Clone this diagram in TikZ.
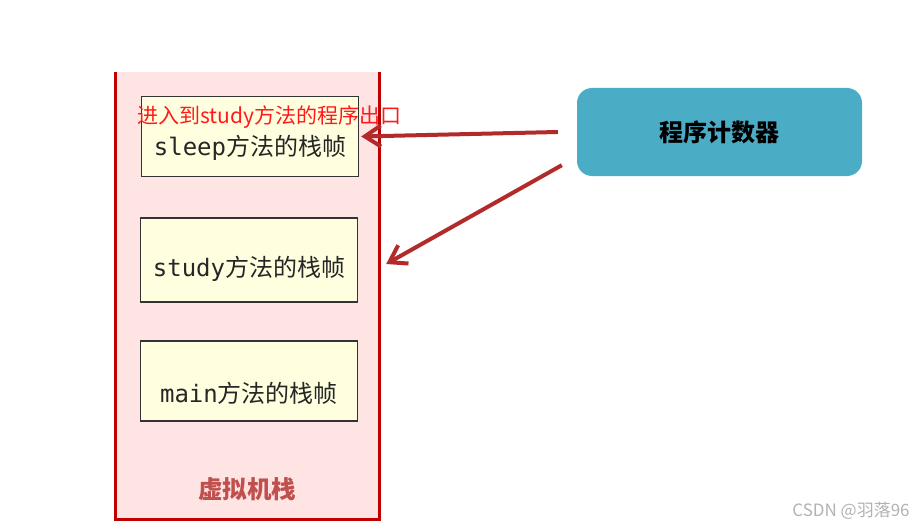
\documentclass[tikz,border=0pt]{standalone}
\usepackage{fontspec}
\newfontfamily\cjk{Noto Sans CJK SC}
\newfontfamily\codefont{DejaVu Sans Mono}
\usepackage{tikz}
\usetikzlibrary{positioning,arrows.meta}
\usepackage{xcolor}
\definecolor{stackred}{HTML}{C00000}
\definecolor{stackpink}{HTML}{FFE4E4}
\definecolor{framefill}{HTML}{FFFFE0}
\definecolor{pcblue}{HTML}{4BACC6}
\definecolor{arrowred}{HTML}{B22A2A}
\definecolor{labelred}{HTML}{C0504D}

\begin{document}
\begin{tikzpicture}[x=1pt,y=-1pt,>={Straight Barb[length=16pt,width=21pt]},
  frame/.style={draw=black!80,line width=1.4pt,fill=framefill,minimum width=217pt,minimum height=80pt},
  frametext/.style={font=\cjk\fontsize{24}{28}\selectfont,text=black!85},
  flow/.style={->,arrowred,line width=4pt}]
\useasboundingbox (0,0) rectangle (916,527);
% the stack
\fill[stackpink] (115.5,72) rectangle (379.5,519.5);
\draw[stackred,line width=3.5pt] (115.5,72) -- (115.5,519.5) -- (379.5,519.5) -- (379.5,72);
\node[font=\cjk\bfseries\fontsize{24.5}{28}\selectfont,text=labelred] (stacklabel) at (247,489) {虚拟机栈};
% frames
\node[frame] (sleep) at (250,136.5) {};
\node[frame,minimum height=84pt] (study) at (249,260) {};
\node[frame] (main) at (249,381) {};
\node[frametext] (sleeptext) at ([yshift=-11pt]sleep.center) {{\codefont sleep}方法的栈帧};
\node[frametext] (studytext) at ([yshift=-9pt]study.center) {{\codefont study}方法的栈帧};
\node[frametext] (maintext) at ([yshift=-12pt]main.center) {{\codefont main}方法的栈帧};
\node[font=\cjk\fontsize{21}{25}\selectfont,text=red!90!white] (exit) at (269,117) {进入到study方法的程序出口};
% program counter
\node[fill=pcblue,rounded corners=15pt,minimum width=285pt,minimum height=88pt,
  font=\cjk\bfseries\fontsize{24}{28}\selectfont] (pc) at (719.5,132) {程序计数器};
\coordinate (tailA) at ([xshift=-19pt]pc.west);
\coordinate (tailB) at ([xshift=-15pt,yshift=11pt]pc.south west);
\coordinate (headB) at ([xshift=28pt,yshift=-4pt]study.east);
\draw[flow] (tailA) -- ([xshift=2pt]sleep.east);
\draw[flow] (tailB) -- (headB);
\node[font=\cjk\fontsize{17}{20}\selectfont,text=black!30] (mark) at (851,511) {CSDN @羽落96};
\end{tikzpicture}
\end{document}
